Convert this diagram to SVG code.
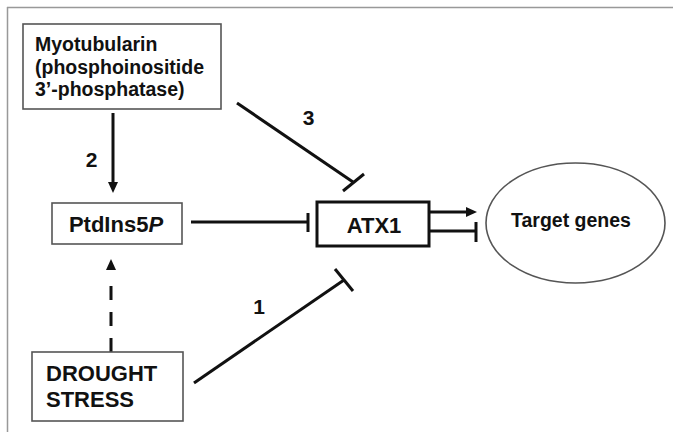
<svg xmlns="http://www.w3.org/2000/svg" width="673" height="432" viewBox="0 0 673 432">
<style>
text{font-family:"Liberation Sans",Arial,sans-serif;font-weight:bold;fill:#111}
.box{fill:#fff;stroke:#555;stroke-width:1.6}
.thick{fill:#fff;stroke:#111;stroke-width:3}
.ln{stroke:#111;stroke-width:3;fill:none}
.lbl{font-size:21px;text-anchor:middle}
</style>
<defs>
<marker id="arrow" markerUnits="userSpaceOnUse" markerWidth="11" markerHeight="10" refX="0" refY="5" orient="auto">
<path d="M0,0 L11,5 L0,10 z" fill="#111"/>
</marker>
</defs>
<rect width="673" height="432" fill="#fff"/>
<g id="frame" stroke="#999" stroke-width="1.5">
<line x1="7" y1="7.5" x2="673" y2="7.5"/>
<line x1="7.5" y1="7" x2="7.5" y2="432"/>
</g>
<g id="connectors">
<line class="ln" x1="113" y1="113" x2="113" y2="182" stroke-width="2.6" marker-end="url(#arrow)"/>
<line class="ln" x1="111" y1="352" x2="111" y2="270" stroke-dasharray="14 12 14 12 14 16" marker-end="url(#arrow)"/>
<line class="ln" x1="191" y1="222" x2="308" y2="222"/>
<line class="ln" x1="308" y1="213" x2="308" y2="232"/>
<line class="ln" x1="237" y1="103" x2="353" y2="182"/>
<line class="ln" x1="343" y1="191" x2="364" y2="174"/>
<line class="ln" x1="194" y1="383" x2="344" y2="280"/>
<line class="ln" x1="335" y1="269" x2="353" y2="291"/>
<line class="ln" x1="429" y1="212" x2="466" y2="212" marker-end="url(#arrow)"/>
<line class="ln" x1="429" y1="231" x2="476" y2="231"/>
<line class="ln" x1="476" y1="222" x2="476" y2="242"/>
<text class="lbl" x="91.5" y="167">2</text>
<text class="lbl" x="308.5" y="125">3</text>
<text class="lbl" x="259" y="314">1</text>
</g>
<g id="myotubularin">
<rect class="box" x="23" y="24" width="198" height="85"/>
<text x="35" y="51" font-size="19.5">Myotubularin</text>
<text x="35" y="73.5" font-size="19.5">(phosphoinositide</text>
<text x="35" y="96" font-size="19.5">3’-phosphatase)</text>
</g>
<g id="ptdins5p">
<rect class="box" x="52" y="203" width="130" height="41"/>
<text x="116" y="232" font-size="22" text-anchor="middle">PtdIns5<tspan font-style="italic">P</tspan></text>
</g>
<g id="atx1">
<rect class="thick" x="317" y="202" width="112" height="44"/>
<text x="374" y="233" font-size="22" text-anchor="middle">ATX1</text>
</g>
<g id="target-genes">
<ellipse cx="575.5" cy="223" rx="89.5" ry="60" fill="#fff" stroke="#555" stroke-width="1.6"/>
<text x="571" y="227" font-size="19.5" text-anchor="middle">Target genes</text>
</g>
<g id="drought-stress">
<rect class="box" x="32" y="352" width="151" height="69"/>
<text x="46" y="381" font-size="22">DROUGHT</text>
<text x="46" y="407" font-size="22">STRESS</text>
</g>
</svg>
